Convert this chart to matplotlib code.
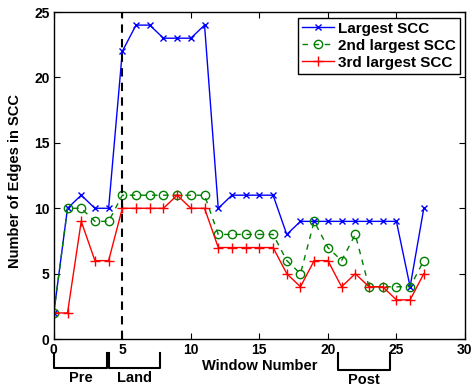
import matplotlib
matplotlib.use('Agg')
import matplotlib.pyplot as plt
import matplotlib.transforms as mtransforms

plt.rcParams['font.family'] = ['Liberation Sans', 'DejaVu Sans']
plt.rcParams['font.weight'] = 'bold'

windows = list(range(28))
largest = [2, 10, 11, 10, 10, 22, 24, 24, 23, 23, 23, 24, 10, 11, 11, 11, 11, 8, 9, 9,
           9, 9, 9, 9, 9, 9, 4, 10]
second = [2, 10, 10, 9, 9, 11, 11, 11, 11, 11, 11, 11, 8, 8, 8, 8, 8, 6, 5, 9,
          7, 6, 8, 4, 4, 4, 4, 6]
third = [2, 2, 9, 6, 6, 10, 10, 10, 10, 11, 10, 10, 7, 7, 7, 7, 7, 5, 4, 6,
         6, 4, 5, 4, 4, 3, 3, 5]

phases = ['Pre', 'Land', 'Post']
phase_spans = [(0.05, 3.85), (4.0, 7.75), (20.75, 24.5)]

fig = plt.figure(figsize=(4.72, 3.88), dpi=100)
ax = fig.add_axes([0.114, 0.126, 0.871, 0.843])

ax.plot(windows, largest, color='#0000ff', marker='x', markersize=4, linewidth=1,
        label='Largest SCC')
ax.plot(windows, second, color='#008000', marker='o', markersize=6, linewidth=1,
        linestyle='--', dashes=(4, 4), markerfacecolor='none', label='2nd largest SCC')
ax.plot(windows, third, color='#ff0000', marker='+', markersize=7, linewidth=1,
        label='3rd largest SCC')
ax.axvline(5, color='black', linestyle='--', dashes=(4, 3), linewidth=1.5)

ax.set_xlim(0, 30)
ax.set_ylim(0, 25)
ax.set_xticks([0, 5, 10, 15, 20, 25, 30])
ax.set_yticks([0, 5, 10, 15, 20, 25])
ax.tick_params(direction='in', top=True, right=True, length=4, labelsize=10, pad=3)
for lab in ax.get_xticklabels() + ax.get_yticklabels():
    lab.set_fontweight('bold')
for sp in ax.spines.values():
    sp.set_linewidth(1)

ax.set_xlabel('Window Number', fontsize=10.5, fontweight='bold', labelpad=1)
ax.set_ylabel('Number of Edges in SCC', fontsize=10.5, fontweight='bold')
ax.yaxis.set_label_coords(-0.078, 0.482)

leg = ax.legend(loc='upper right', bbox_to_anchor=(0.988, 0.982), fontsize=11,
                fancybox=False, edgecolor='black', framealpha=1, handlelength=2.1,
                handletextpad=0.3, borderpad=0.25, labelspacing=0.2, borderaxespad=0)
leg.get_frame().set_linewidth(1)
for t in leg.get_texts():
    t.set_fontweight('bold')

# phase brackets under the x axis
trans = mtransforms.blended_transform_factory(ax.transData, ax.transAxes)
for name, (x0, x1) in zip(phases, phase_spans):
    top = -0.043
    bot = -0.088 if name != 'Post' else -0.095
    ax.plot([x0, x0, x1, x1], [top, bot, bot, top], color='black', linewidth=1.5,
            transform=trans, clip_on=False)
    ty = -0.118 if name != 'Post' else -0.124
    ax.text((x0 + x1) / 2, ty, name, transform=trans, ha='center', va='center',
            fontsize=10.5, fontweight='bold')

fig.savefig('out.png', dpi=100)
